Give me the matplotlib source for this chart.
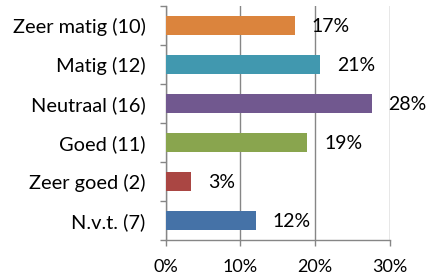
import numpy as np
import matplotlib
matplotlib.use("Agg")
import matplotlib.pyplot as plt
from matplotlib.ticker import FixedLocator, PercentFormatter

plt.rcParams["font.family"] = ["Lato", "DejaVu Sans"]

# data, bottom to top
categories = ["N.v.t. (7)", "Zeer goed (2)", "Goed (11)", "Neutraal (16)", "Matig (12)", "Zeer matig (10)"]
counts = [7, 2, 11, 16, 12, 10]
colors = ["#4572A7", "#AA4643", "#89A54E", "#71588F", "#4198AF", "#DB843D"]
x_ticks = [0, 10, 20, 30]

total = sum(counts)
pct = [c / total * 100 for c in counts]

fig = plt.figure(figsize=(4.29, 2.77), dpi=100)
ax = fig.add_axes([0.386, 0.134, 0.523, 0.844])

y = np.arange(len(categories))
ax.barh(y, pct, height=0.5, color=colors, zorder=3)

# value labels just right of each bar
for yi, p in zip(y, pct):
    ax.annotate(f"{p:.0f}%", xy=(p, yi), xytext=(12, -1), textcoords="offset points",
                va="center", ha="left", fontsize=14, zorder=4)

ax.set_xlim(0, 30)
ax.set_ylim(-0.5, len(categories) - 0.5)
ax.set_yticks(y)
ax.set_yticklabels(categories, fontsize=14.4)
ax.yaxis.set_minor_locator(FixedLocator(np.arange(-0.5, len(categories), 1.0)))
ax.tick_params(axis="y", which="major", length=0, pad=14.5)
ax.tick_params(axis="y", which="minor", length=4, color="#868686", width=1)

ax.set_xticks(x_ticks)
ax.xaxis.set_major_formatter(PercentFormatter(decimals=0))
ax.tick_params(axis="x", length=4, color="#868686", width=1, labelsize=13, pad=10)

ax.grid(axis="x", color="#868686", linewidth=1, zorder=0)
for s in ["top", "right"]:
    ax.spines[s].set_visible(False)
for s in ["left", "bottom"]:
    ax.spines[s].set_color("#868686")
    ax.spines[s].set_linewidth(1)

fig.savefig("out.png", dpi=100)
